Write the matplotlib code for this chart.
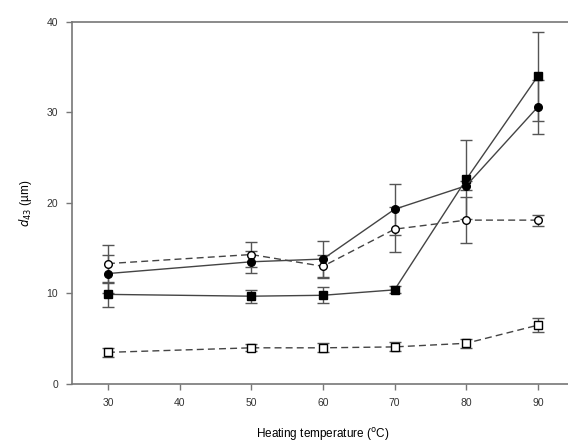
import numpy as np
import matplotlib.pyplot as plt

plt.rcParams['font.family'] = ['Liberation Sans', 'DejaVu Sans']

# heating temperatures (C)
temp = [30, 50, 60, 70, 80, 90]

# d43 means and standard deviations
sq_fill = [9.9, 9.7, 9.8, 10.4, 22.6, 34.0]
sq_fill_err = [1.4, 0.7, 0.9, 0.4, 4.4, 4.9]
ci_fill = [12.2, 13.5, 13.8, 19.3, 21.9, 30.6]
ci_fill_err = [2.1, 1.2, 2.0, 2.8, 0.5, 3.0]
ci_open = [13.3, 14.3, 13.0, 17.1, 18.1, 18.1]
ci_open_err = [2.1, 1.4, 1.3, 2.5, 2.5, 0.6]
sq_open = [3.5, 4.0, 4.0, 4.1, 4.5, 6.5]
sq_open_err = [0.5, 0.4, 0.5, 0.5, 0.5, 0.8]

fig = plt.figure(figsize=(5.68, 4.45), dpi=100)
ax = fig.add_axes([0.127, 0.137, 0.883, 0.814])

lc = '#444444'
kw = dict(color=lc, lw=1.0, capsize=4, elinewidth=1.0, ecolor='#555555', capthick=1.0)

ax.errorbar(temp, sq_open, yerr=sq_open_err, ls='--', marker='s', ms=5.5,
            mfc='white', mec='black', mew=1.0, dashes=(5, 3), **kw)
ax.errorbar(temp, ci_open, yerr=ci_open_err, ls='--', marker='o', ms=5.5,
            mfc='white', mec='black', mew=1.0, dashes=(5, 3), **kw)
ax.errorbar(temp, sq_fill, yerr=sq_fill_err, ls='-', marker='s', ms=6,
            mfc='black', mec='black', **kw)
ax.errorbar(temp, ci_fill, yerr=ci_fill_err, ls='-', marker='o', ms=5.5,
            mfc='black', mec='black', **kw)

ax.set_xlim(25, 95)
ax.set_ylim(0, 40)
ax.set_xticks([30, 40, 50, 60, 70, 80, 90])
ax.set_yticks([0, 10, 20, 30, 40])

for s in ['left', 'bottom', 'top']:
    ax.spines[s].set_color('#777777')
    ax.spines[s].set_linewidth(1.2)
ax.spines['right'].set_visible(False)
ax.tick_params(direction='out', length=4, width=1, color='#777777',
               labelsize=7.5, labelcolor='#333333', pad=6)

ax.set_xlabel('Heating temperature ($^{\\rm o}$C)', fontsize=8.5, labelpad=13)
ax.set_ylabel('$d_{\\rm 43}$ (\u00b5m)', fontsize=8.5, labelpad=9)

plt.savefig('out.png', dpi=100)
